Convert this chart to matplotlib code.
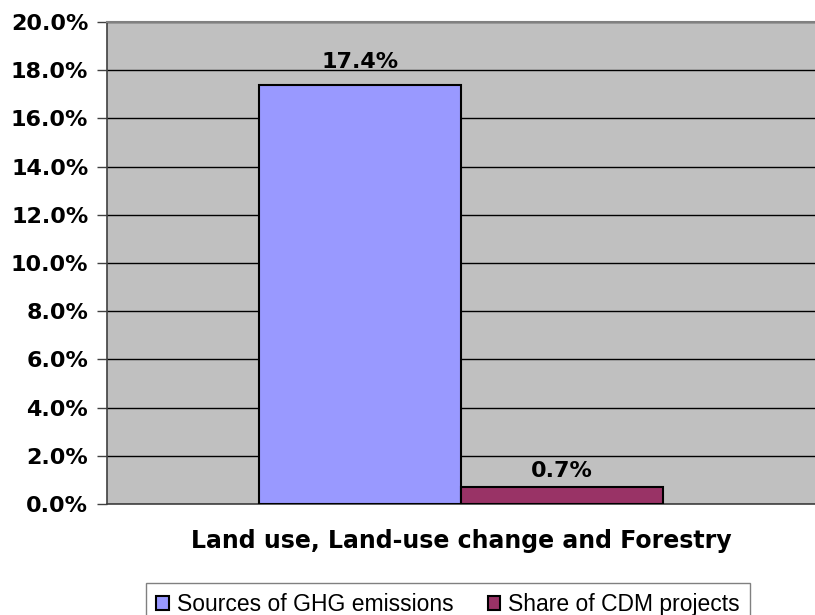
import numpy as np
import matplotlib.pyplot as plt
from matplotlib.patches import Patch
from matplotlib.ticker import MultipleLocator, FuncFormatter

plt.rcParams['font.family'] = ['Liberation Sans', 'DejaVu Sans']
BOLD = ['DejaVu Sans']

category = "Land use, Land-use change and Forestry"
series = ["Sources of GHG emissions", "Share of CDM projects"]
values = [17.4, 0.7]
colors = ["#9999FF", "#993366"]
# gap between bar top and label baseline, in pixels
label_gap = [17, 10]

fig = plt.figure(figsize=(8.15, 6.15), dpi=100)
ax = fig.add_axes([107 / 815, 1 - 504 / 615, 708 / 815, 482 / 615])
ax.set_facecolor("#C0C0C0")

# gap width 150% -> each bar is 1/3.5 of the category slot
w = 1 / 3.5
xs = [0.5 - w / 2, 0.5 + w / 2]
for x, v, c, g in zip(xs, values, colors, label_gap):
    ax.bar(x, v, width=w, color=c, edgecolor="black", linewidth=1.5, zorder=3)
    ax.annotate(f"{v:.1f}%", (x, v), xytext=(0, g), textcoords="offset pixels",
                ha="center", va="baseline", fontsize=16, fontweight="bold",
                family=BOLD, zorder=4)

ax.set_xlim(0, 1)
ax.set_ylim(0, 20)
ax.yaxis.set_major_locator(MultipleLocator(2))
ax.yaxis.set_major_formatter(FuncFormatter(lambda v, p: f"{v:.1f}%"))
ax.grid(axis="y", color="black", linewidth=1.0, zorder=1)
ax.set_xticks([])
ax.tick_params(axis="y", length=7, width=1, color="#404040", pad=6.5,
               labelsize=16)
for lbl in ax.get_yticklabels():
    lbl.set_fontweight("bold")
    lbl.set_family(BOLD)

for side in ["left", "bottom"]:
    ax.spines[side].set_color("#404040")
    ax.spines[side].set_linewidth(1.2)
ax.spines["top"].set_color("#808080")
ax.spines["top"].set_linewidth(1.5)
ax.spines["right"].set_visible(False)

ax.set_xlabel(category, fontsize=17, fontweight="bold", family=BOLD, labelpad=18)

handles = [Patch(facecolor=c, edgecolor="black", linewidth=1.5, label=s)
           for s, c in zip(series, colors)]
leg = fig.legend(handles=handles, loc="upper center", ncol=2,
                 bbox_to_anchor=(448 / 815, 1 - 583 / 615), frameon=True, fancybox=False,
                 fontsize=16.5, handlelength=0.55, handleheight=0.55,
                 handletextpad=0.35, columnspacing=1.5, borderpad=0.45,
                 borderaxespad=0)
leg.get_frame().set_edgecolor("#606060")
leg.get_frame().set_linewidth(1.0)

fig.savefig("out.png", dpi=100)
